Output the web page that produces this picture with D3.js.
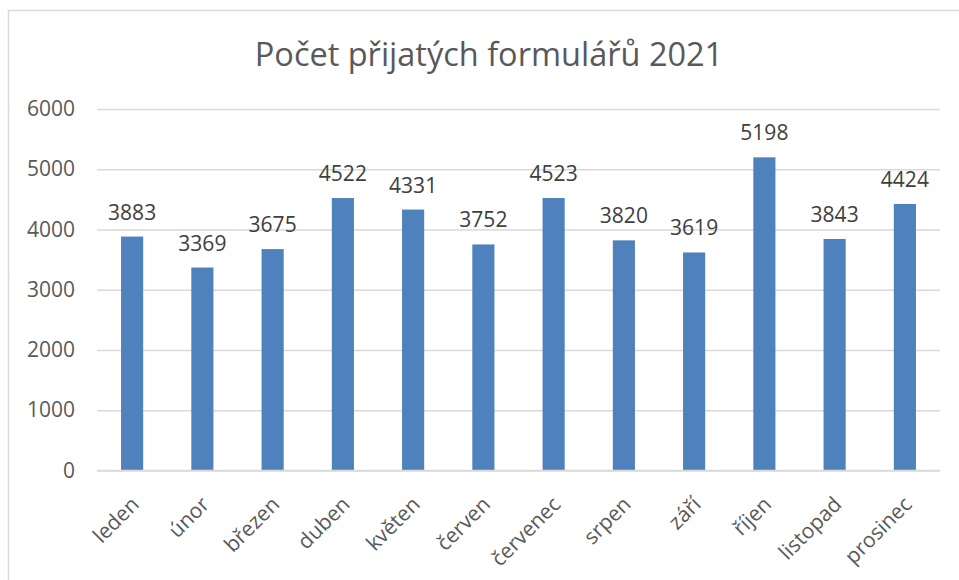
<!DOCTYPE html>
<html>
<head>
<meta charset="utf-8">
<script src="https://cdn.jsdelivr.net/npm/d3@7"></script>
<style>
  body { margin: 0; background: #fff; }
  text { font-family: "Open Sans", sans-serif; }
</style>
</head>
<body>
<div id="chart"></div>
<script>
// data
const months = ["leden", "únor", "březen", "duben", "květen", "červen",
  "červenec", "srpen", "září", "říjen", "listopad", "prosinec"];
const counts = [3883, 3369, 3675, 4522, 4331, 3752, 4523, 3820, 3619, 5198, 3843, 4424];
const yTicks = [0, 1000, 2000, 3000, 4000, 5000, 6000];
const title = "Počet přijatých formulářů 2021";

const W = 959, H = 580;
const margin = { top: 109, right: 19, bottom: 109.5, left: 97 },
    width = W - margin.left - margin.right,
    height = H - margin.top - margin.bottom;

const svg = d3.select("#chart")
    .append("svg")
    .attr("width", W)
    .attr("height", H);

// chart frame (right and bottom edges fall outside the picture)
svg.append("rect")
    .attr("x", 8.5).attr("y", 10.5)
    .attr("width", 1000).attr("height", 1000)
    .attr("fill", "none")
    .attr("stroke", "#d9d9d9")
    .attr("stroke-width", 1.5);

svg.append("text")
    .attr("x", 489).attr("y", 66)
    .attr("text-anchor", "middle")
    .attr("fill", "#595959")
    .style("font-size", "32.5px")
    .text(title);

const g = svg.append("g")
    .attr("transform", `translate(${margin.left},${margin.top})`);

const x = d3.scaleBand()
    .domain(months)
    .range([0, width]);

const y = d3.scaleLinear()
    .domain([0, 6000])
    .range([height, 0]);

// gridlines + y labels
const yAxis = g.append("g")
    .call(d3.axisLeft(y).tickValues(yTicks).tickFormat(d3.format("d")).tickSize(-width).tickPadding(22));
yAxis.select(".domain").remove();
yAxis.selectAll(".tick line").attr("stroke", "#d9d9d9").attr("stroke-width", 1.3);
yAxis.selectAll(".tick text")
    .attr("fill", "#595959")
    .style("font-size", "21px");

// bars
const barW = x.bandwidth() * 0.315;
g.selectAll(".bar")
    .data(counts)
    .join("rect")
    .attr("class", "bar")
    .attr("x", (d, i) => x(months[i]) + x.bandwidth() / 2 - barW / 2)
    .attr("y", d => y(d))
    .attr("width", barW)
    .attr("height", d => height - y(d))
    .attr("fill", "#4f81bd");

// value labels
g.selectAll(".val")
    .data(counts)
    .join("text")
    .attr("class", "val")
    .attr("x", (d, i) => x(months[i]) + x.bandwidth() / 2)
    .attr("y", d => y(d) - 17)
    .attr("text-anchor", "middle")
    .attr("fill", "#404040")
    .style("font-size", "21px")
    .text(d => d);

// x axis line
g.append("line")
    .attr("x1", 0).attr("x2", width)
    .attr("y1", height).attr("y2", height)
    .attr("stroke", "#d9d9d9")
    .attr("stroke-width", 1.5);

// rotated month labels
g.selectAll(".xlab")
    .data(months)
    .join("text")
    .attr("class", "xlab")
    .attr("transform", d => `translate(${x(d) + x.bandwidth() / 2 + 3},${height + 30}) rotate(-45)`)
    .attr("text-anchor", "end")
    .attr("dy", "0.35em")
    .attr("fill", "#595959")
    .style("font-size", "21px")
    .text(d => d);
</script>
</body>
</html>
